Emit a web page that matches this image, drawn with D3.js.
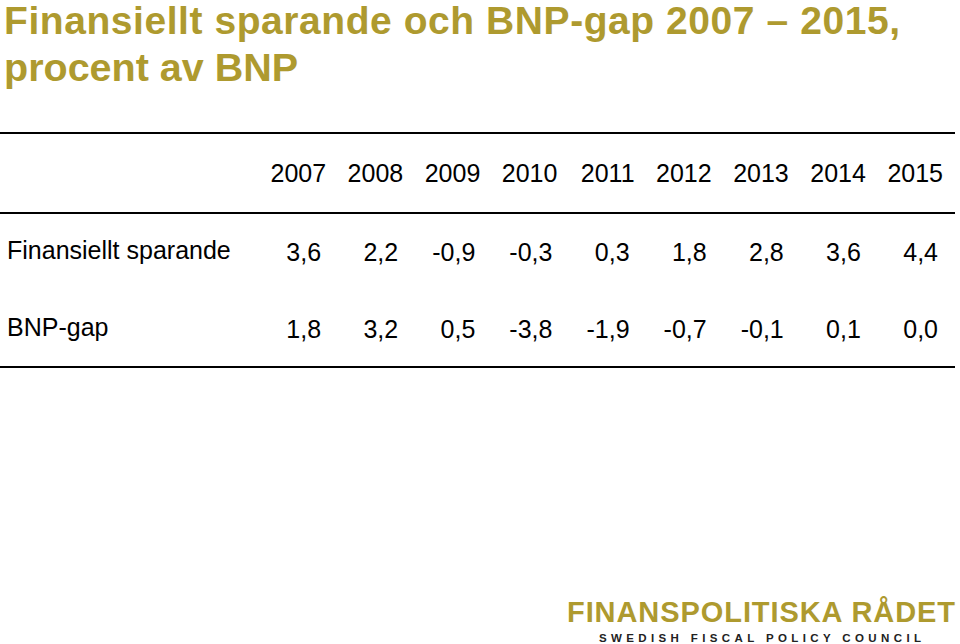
<!DOCTYPE html>
<html><head><meta charset="utf-8">
<script src="https://cdn.jsdelivr.net/npm/d3@7"></script>
<style>body{margin:0;background:#fff}</style>
</head><body><svg id="c" width="960" height="644"></svg>
<script>
const years = ["2007","2008","2009","2010","2011","2012","2013","2014","2015"];
const rowLabels = ["Finansiellt sparande","BNP-gap"];
const sparande = ["3,6","2,2","-0,9","-0,3","0,3","1,8","2,8","3,6","4,4"];
const bnpGap = ["1,8","3,2","0,5","-3,8","-1,9","-0,7","-0,1","0,1","0,0"];
const rows = [sparande, bnpGap];

const svg = d3.select("#c");
const gold = "#ae9a2f";
const font = "Liberation Sans, Arial, sans-serif";

svg.append("text").attr("x",4).attr("y",34).attr("fill",gold).attr("font-family",font)
  .attr("font-weight","bold").attr("font-size",39).attr("textLength",896)
  .text("Finansiellt sparande och BNP-gap 2007 \u2013 2015,");
svg.append("text").attr("x",4).attr("y",81).attr("fill",gold).attr("font-family",font)
  .attr("font-weight","bold").attr("font-size",39.5).text("procent av BNP");

const x = d3.scaleBand().domain(years).range([250, 944]);
const xr = d => x(d) + x.bandwidth();

[133,213,367].forEach(y=>svg.append("line").attr("x1",0).attr("x2",955).attr("y1",y).attr("y2",y)
  .attr("stroke","#000").attr("stroke-width",2));

const fs = 25;
svg.selectAll(".yr").data(years).join("text").attr("x",d=>xr(d)-1).attr("y",182)
  .attr("text-anchor","end").attr("font-family",font).attr("font-size",fs).text(d=>d);

const rowY = [261, 338];
rows.forEach((vals,i)=>{
  svg.append("text").attr("x",7).attr("y",rowY[i]-2).attr("font-family",font).attr("font-size",fs).text(rowLabels[i]);
  svg.selectAll(".v"+i).data(vals).join("text").attr("x",(d,j)=>xr(years[j])-6).attr("y",rowY[i])
    .attr("text-anchor","end").attr("font-family",font).attr("font-size",fs).text(d=>d);
});

svg.append("text").attr("x",955).attr("y",622).attr("text-anchor","end").attr("fill",gold)
  .attr("font-family",font).attr("font-weight","bold").attr("font-size",29).attr("textLength",388)
  .text("FINANSPOLITISKA RÅDET");
svg.append("text").attr("x",921).attr("y",642).attr("text-anchor","end").attr("fill","#222")
  .attr("font-family",font).attr("font-weight","bold").attr("font-size",11.5).attr("textLength",322)
  .text("SWEDISH FISCAL POLICY COUNCIL");
</script></body></html>
